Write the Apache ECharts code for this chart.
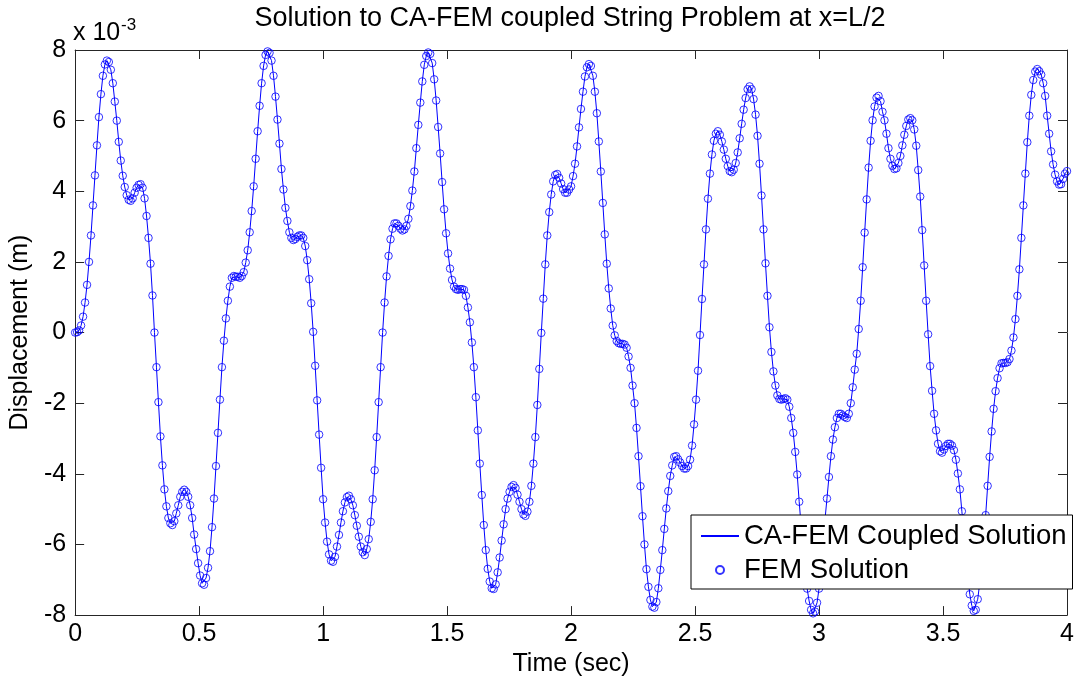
<!DOCTYPE html>
<html>
<head>
<meta charset="utf-8">
<script src="https://cdn.jsdelivr.net/npm/echarts@6/dist/echarts.min.js"></script>
<style>
  html, body { margin: 0; padding: 0; background: #fff; }
  #chart { width: 1079px; height: 682px; }
</style>
</head>
<body>
<div id="chart"></div>
<script>
// ---- data (displacement in units of 1e-3 m, sampled every 0.008 s from t = 0 to 4 s) ----
const titleText = 'Solution to CA-FEM coupled String Problem at x=L/2';
const xAxisTitle = 'Time (sec)';
const yAxisTitle = 'Displacement (m)';
const seriesNames = ['CA-FEM Coupled Solution', 'FEM Solution'];
const sampleStep = 0.008;
const xTicks = [0, 0.5, 1, 1.5, 2, 2.5, 3, 3.5, 4];
const yTicks = [-8, -6, -4, -2, 0, 2, 4, 6, 8];

const disp0 = [ // t 0.000 - 0.320
  0, 0.01, 0.06, 0.2, 0.45, 0.85, 1.35, 2.0, 2.75, 3.6,
  4.45, 5.3, 6.1, 6.75, 7.27, 7.59, 7.7, 7.66, 7.44, 7.06,
  6.54, 6.0, 5.4, 4.87, 4.44, 4.12, 3.89, 3.76, 3.73, 3.8,
  3.96, 4.1, 4.18, 4.2, 4.1, 3.8, 3.3, 2.68, 1.95, 1.05,
  0.0
];
const disp1 = [ // t 0.328 - 0.960
  -0.98, -1.97, -2.94, -3.76, -4.44, -4.92, -5.25, -5.4, -5.45, -5.34,
  -5.12, -4.89, -4.65, -4.51, -4.45, -4.51, -4.65, -4.89, -5.25, -5.72,
  -6.13, -6.53, -6.88, -7.1, -7.14, -6.95, -6.66, -6.19, -5.51, -4.7,
  -3.78, -2.84, -1.9, -0.98, -0.23, 0.4, 0.9, 1.3, 1.55, 1.6,
  1.58, 1.58, 1.55, 1.6, 1.71, 1.98, 2.33, 2.84, 3.44, 4.14,
  4.92, 5.7, 6.42, 7.06, 7.55, 7.86, 7.96, 7.92, 7.7, 7.27,
  6.68, 6.03, 5.35, 4.63, 4.05, 3.53, 3.16, 2.84, 2.68, 2.62,
  2.65, 2.71, 2.75, 2.75, 2.68, 2.45, 2.05, 1.51, 0.83, 0.02
];
const disp2 = [ // t 0.968 - 1.600
  -0.94, -1.92, -2.89, -3.83, -4.72, -5.38, -5.92, -6.28, -6.46, -6.49,
  -6.35, -6.06, -5.73, -5.38, -5.06, -4.81, -4.66, -4.62, -4.72, -4.89,
  -5.17, -5.47, -5.78, -6.06, -6.22, -6.3, -6.13, -5.85, -5.36, -4.72,
  -3.9, -2.96, -1.97, -0.98, 0.0, 0.85, 1.59, 2.17, 2.64, 2.94,
  3.09, 3.09, 3.02, 2.94, 2.89, 2.92, 3.02, 3.22, 3.58, 4.02,
  4.56, 5.22, 5.88, 6.51, 7.11, 7.58, 7.83, 7.93, 7.89, 7.63,
  7.17, 6.57, 5.82, 5.07, 4.26, 3.49, 2.81, 2.24, 1.81, 1.49,
  1.3, 1.23, 1.21, 1.23, 1.23, 1.21, 1.04, 0.71, 0.29, -0.28
];
const disp3 = [ // t 1.608 - 2.240
  -0.98, -1.83, -2.77, -3.71, -4.6, -5.45, -6.16, -6.69, -7.05, -7.24,
  -7.26, -7.13, -6.79, -6.37, -5.89, -5.43, -5.0, -4.7, -4.51, -4.37,
  -4.32, -4.4, -4.59, -4.79, -5.0, -5.15, -5.19, -5.07, -4.79, -4.34,
  -3.71, -2.96, -2.05, -1.03, -0.01, 0.96, 1.93, 2.75, 3.41, 3.91,
  4.28, 4.46, 4.49, 4.38, 4.22, 4.06, 3.96, 3.96, 4.05, 4.14,
  4.43, 4.78, 5.27, 5.81, 6.33, 6.82, 7.25, 7.51, 7.6, 7.55,
  7.27, 6.82, 6.21, 5.41, 4.56, 3.67, 2.78, 1.95, 1.25, 0.68,
  0.2, -0.08, -0.24, -0.3, -0.32, -0.32, -0.34, -0.43, -0.68, -1.0
];
const disp4 = [ // t 2.248 - 2.880
  -1.5, -2.0, -2.7, -3.5, -4.35, -5.2, -6.0, -6.7, -7.2, -7.57,
  -7.76, -7.79, -7.63, -7.24, -6.72, -6.16, -5.56, -4.98, -4.49, -4.06,
  -3.76, -3.52, -3.5, -3.59, -3.68, -3.78, -3.85, -3.85, -3.78, -3.6,
  -3.2, -2.6, -1.9, -1.08, -0.07, 0.95, 1.93, 2.92, 3.79, 4.5,
  5.04, 5.43, 5.63, 5.7, 5.6, 5.41, 5.18, 4.92, 4.71, 4.57,
  4.54, 4.61, 4.8, 5.1, 5.5, 5.91, 6.31, 6.64, 6.89, 6.97,
  6.89, 6.61, 6.17, 5.57, 4.78, 3.88, 2.92, 1.96, 1.04, 0.15,
  -0.55, -1.1, -1.5, -1.78, -1.88, -1.9, -1.88, -1.86, -1.9, -2.1
];
const disp5 = [ // t 2.888 - 3.520
  -2.42, -2.84, -3.38, -4.02, -4.79, -5.5, -6.2, -6.8, -7.25, -7.6,
  -7.85, -7.95, -7.9, -7.65, -7.25, -6.7, -6.0, -5.3, -4.7, -4.09,
  -3.5, -3.03, -2.68, -2.42, -2.3, -2.3, -2.35, -2.39, -2.42, -2.3,
  -2.0, -1.55, -1.05, -0.6, 0.1, 0.9, 1.85, 2.83, 3.77, 4.67,
  5.43, 6.01, 6.4, 6.65, 6.7, 6.55, 6.25, 6.01, 5.63, 5.22,
  4.92, 4.72, 4.63, 4.65, 4.8, 5.0, 5.3, 5.6, 5.85, 6.03,
  6.07, 6.01, 5.75, 5.29, 4.6, 3.85, 2.9, 1.9, 0.9, -0.05,
  -0.95, -1.65, -2.3, -2.77, -3.15, -3.36, -3.4, -3.31, -3.21, -3.15
];
const disp6 = [ // t 3.528 - 4.000
  -3.15, -3.2, -3.33, -3.6, -3.99, -4.44, -5.06, -5.7, -6.3, -6.9,
  -7.41, -7.73, -7.88, -7.85, -7.55, -7.1, -6.5, -5.85, -5.17, -4.34,
  -3.52, -2.8, -2.16, -1.66, -1.29, -1.01, -0.87, -0.86, -0.86, -0.84,
  -0.75, -0.51, -0.14, 0.38, 1.04, 1.79, 2.68, 3.6, 4.5, 5.39,
  6.14, 6.73, 7.15, 7.39, 7.46, 7.4, 7.3, 7.06, 6.7, 6.14,
  5.63, 5.13, 4.76, 4.47, 4.28, 4.19, 4.2, 4.35, 4.5, 4.57
];

const displacement = [].concat(disp0, disp1, disp2, disp3, disp4, disp5, disp6);
const time = displacement.map((_, i) => +(i * sampleStep).toFixed(3));
const points = displacement.map((v, i) => [time[i], v]);

// ---- chart ----
const FONT = '"Liberation Sans", Arial, Helvetica, sans-serif';
const AXIS_COLOR = '#262626';
const BLUE = '#0000ff';
const chart = echarts.init(document.getElementById('chart'), null, { renderer: 'canvas' });

const baseX = {
  type: 'value', min: xTicks[0], max: xTicks[xTicks.length - 1], interval: 0.5,
  axisLine: { show: true, onZero: false, lineStyle: { color: AXIS_COLOR, width: 1 } },
  axisTick: { show: true, inside: true, length: 9, lineStyle: { color: AXIS_COLOR } },
  splitLine: { show: false }
};
const baseY = {
  type: 'value', min: yTicks[0], max: yTicks[yTicks.length - 1], interval: 2,
  axisLine: { show: true, onZero: false, lineStyle: { color: AXIS_COLOR, width: 1 } },
  axisTick: { show: true, inside: true, length: 9, lineStyle: { color: AXIS_COLOR } },
  splitLine: { show: false }
};

chart.setOption({
  animation: false,
  backgroundColor: '#ffffff',
  textStyle: { fontFamily: FONT },
  grid: { left: 72, right: 12, top: 50, bottom: 65, containLabel: false },
  xAxis: [
    Object.assign({}, baseX, {
      position: 'bottom',
      axisLabel: { show: true, color: '#000', fontSize: 25, fontFamily: FONT, margin: 7 },
      name: xAxisTitle, nameLocation: 'middle', nameGap: 31,
      nameTextStyle: { color: '#000', fontSize: 25, fontFamily: FONT }
    }),
    Object.assign({}, baseX, { position: 'top', axisLabel: { show: false } })
  ],
  yAxis: [
    Object.assign({}, baseY, {
      position: 'left',
      axisLabel: { show: true, color: '#000', fontSize: 25, fontFamily: FONT, margin: 9 },
      name: yAxisTitle, nameLocation: 'middle', nameGap: 35, nameRotate: 90,
      nameTextStyle: { color: '#000', fontSize: 25, fontFamily: FONT }
    }),
    Object.assign({}, baseY, { position: 'right', axisLabel: { show: false } })
  ],
  legend: {
    show: true,
    orient: 'vertical',
    left: 691, top: 515,
    padding: [6, 6, 4, 9],
    itemGap: 4,
    itemWidth: 38, itemHeight: 8,
    backgroundColor: '#ffffff',
    borderColor: '#000000', borderWidth: 1, borderRadius: 0,
    selectedMode: false,
    textStyle: { color: '#000', fontSize: 27.5, fontFamily: FONT, lineHeight: 30 },
    data: [seriesNames[0], seriesNames[1]]
  },
  graphic: [
    { type: 'text', x: 570, y: 19, z: 100,
      style: { text: titleText, fill: '#000', font: '27px ' + FONT, textAlign: 'center', textVerticalAlign: 'middle' } },
    { type: 'text', x: 73, y: 46, z: 100,
      style: { text: 'x 10', fill: '#000', font: '25px ' + FONT, textAlign: 'left', textVerticalAlign: 'bottom' } },
    { type: 'text', x: 121, y: 34, z: 100,
      style: { text: '-3', fill: '#000', font: '17px ' + FONT, textAlign: 'left', textVerticalAlign: 'bottom' } }
  ],
  series: [
    {
      name: seriesNames[0], type: 'line', xAxisIndex: 0, yAxisIndex: 0,
      data: points, symbol: 'none', showSymbol: false, smooth: false,
      lineStyle: { color: BLUE, width: 1 },
      itemStyle: { color: 'rgba(0,0,0,0)', borderColor: 'rgba(0,0,0,0)', borderWidth: 0 }, z: 2
    },
    {
      name: seriesNames[1], type: 'scatter', xAxisIndex: 0, yAxisIndex: 0,
      data: points, symbol: 'circle', symbolSize: 7.5,
      itemStyle: { color: 'rgba(0,0,0,0)', borderColor: BLUE, borderWidth: 1 }, z: 3
    }
  ]
});
</script>
</body>
</html>
